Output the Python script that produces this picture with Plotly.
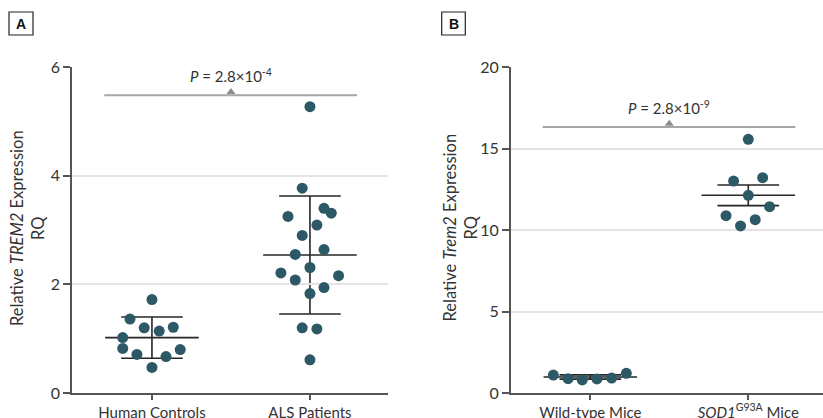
import plotly.graph_objects as go

# ---------------- data ----------------
panel_a_categories = ["Human Controls", "ALS Patients"]
panel_b_categories = ["Wild-type Mice", "<i>SOD1</i><sup>G93A</sup> Mice"]

hc_values = [1.72, 1.36, 1.20, 1.14, 1.21, 1.02, 0.82, 0.71, 0.67, 0.80, 0.47]
hc_jitter = [0.0, -0.139, -0.049, 0.046, 0.135, -0.185, -0.185, -0.095, 0.089, 0.179, 0.0]

als_values = [5.27, 3.77, 3.40, 3.31, 3.25, 3.09, 2.90, 2.64, 2.55, 2.31, 2.21, 2.16,
              2.08, 1.94, 1.83, 1.20, 1.18, 0.61]
als_jitter = [0.0, -0.049, 0.089, 0.135, -0.139, 0.044, -0.049, 0.089, -0.093, 0.0,
              -0.184, 0.181, -0.093, 0.089, 0.0, -0.049, 0.044, 0.0]

wt_values = [1.10, 0.88, 0.80, 0.86, 0.92, 1.21]
wt_jitter = [-0.234, -0.141, -0.051, 0.042, 0.135, 0.228]

sod_values = [15.56, 13.00, 13.21, 12.13, 11.43, 10.88, 10.63, 10.25]
sod_jitter = [0.0, -0.093, 0.091, 0.0, 0.135, -0.141, 0.044, -0.049]

panel_a_means = [1.02, 2.54]
panel_a_sds = [0.38, 1.085]
panel_b_means = [0.98, 12.13]
panel_b_sds = [0.13, 0.635]

p_labels = ["<i>P</i> = 2.8×10<sup>-4</sup>", "<i>P</i> = 2.8×10<sup>-9</sup>"]
bracket_y = [5.48, 16.32]

a_ticks = [0, 2, 4, 6]
b_ticks = [0, 5, 10, 15, 20]

# ---------------- styling ----------------
W, H = 823, 418
FONT = "Lato, Roboto, sans-serif"
DOT = "#2d5866"
LINE = "#262626"
GRID = "#e4e4e4"
AXIS = "#555555"
BRACKET = "#a6a6a6"

def px_x(p):
    return p / W

def px_y(p):
    return 1 - p / H

fig = go.Figure()

def add_group(xa, ya, pos, values, jitter):
    fig.add_trace(go.Scatter(
        x=[pos + j for j in jitter], y=values, mode="markers",
        marker=dict(size=11, color=DOT, line=dict(width=0)),
        xaxis=xa, yaxis=ya, showlegend=False, hoverinfo="skip"))

def add_summary(xr, yr, pos, mean, sd):
    lo, hi = mean - sd, mean + sd
    segs = [
        (pos - 0.296, pos + 0.296, mean, mean),
        (pos - 0.195, pos + 0.195, hi, hi),
        (pos - 0.195, pos + 0.195, lo, lo),
        (pos, pos, lo, hi),
    ]
    for x0, x1, y0, y1 in segs:
        fig.add_shape(type="line", xref=xr, yref=yr, x0=x0, x1=x1, y0=y0, y1=y1,
                      line=dict(color=LINE, width=1.6), layer="below")

# Panel A
add_summary("x", "y", 0, panel_a_means[0], panel_a_sds[0])
add_summary("x", "y", 1, panel_a_means[1], panel_a_sds[1])
add_group("x", "y", 0, hc_values, hc_jitter)
add_group("x", "y", 1, als_values, als_jitter)

# Panel B
add_summary("x2", "y2", 0, panel_b_means[0], panel_b_sds[0])
add_summary("x2", "y2", 1, panel_b_means[1], panel_b_sds[1])
add_group("x2", "y2", 0, wt_values, wt_jitter)
add_group("x2", "y2", 1, sod_values, sod_jitter)

# significance brackets
for xr, yr, by, lab, tri_off in [("x", "y", bracket_y[0], p_labels[0], 0.06),
                                 ("x2", "y2", bracket_y[1], p_labels[1], 0.2)]:
    fig.add_shape(type="line", xref=xr, yref=yr, x0=-0.302, x1=1.298, y0=by, y1=by,
                  line=dict(color=BRACKET, width=1.8))
    fig.add_trace(go.Scatter(x=[0.5], y=[by + tri_off], mode="markers",
                             marker=dict(symbol="triangle-up", size=8, color="#8c8c8c"),
                             xaxis=xr, yaxis=yr, showlegend=False, hoverinfo="skip"))
    fig.add_annotation(x=0.5, y=by, xref=xr, yref=yr, text=lab, showarrow=False,
                       yanchor="bottom", yshift=8,
                       font=dict(family=FONT, size=15, color="#333333"))

# axes
ydom = [px_y(393), px_y(67)]
common_x = dict(showgrid=False, zeroline=False, showline=True, linecolor=AXIS,
                linewidth=1.5, ticks="outside", ticklen=5, tickcolor=AXIS,
                tickwidth=1.5, tickmode="array", tickvals=[0, 1], automargin=False,
                tickfont=dict(family=FONT, size=15, color="#333333"), fixedrange=True)
common_y = dict(showgrid=True, gridcolor=GRID, gridwidth=1.5, zeroline=False,
                showline=True, linecolor=AXIS, linewidth=1.5, ticks="outside",
                ticklen=7, tickcolor=AXIS, tickwidth=1.5, automargin=False,
                tickfont=dict(family=FONT, size=16, color="#333333"), fixedrange=True)

fig.update_layout(
    width=W, height=H, margin=dict(l=0, r=0, t=0, b=0, pad=0), autosize=False,
    paper_bgcolor="white", plot_bgcolor="white",
    xaxis=dict(common_x, domain=[px_x(72), px_x(388)], range=[-0.506, 1.494],
               ticktext=panel_a_categories, anchor="y"),
    yaxis=dict(common_y, domain=ydom, range=[0, 6], tickvals=a_ticks, anchor="x"),
    xaxis2=dict(common_x, domain=[px_x(510.7), 1.0], range=[-0.504, 1.473],
                ticktext=panel_b_categories, anchor="y2"),
    yaxis2=dict(common_y, domain=ydom, range=[0, 20], tickvals=b_ticks, anchor="x2"),
    showlegend=False,
)

# y-axis titles
for xc, txt in [(28, "Relative <i>TREM2</i> Expression<br>RQ"),
                (460.5, "Relative <i>Trem2</i> Expression<br>RQ")]:
    fig.add_annotation(x=px_x(xc), y=px_y(228), xref="paper", yref="paper",
                       text=txt, textangle=-90, showarrow=False,
                       xanchor="center", yanchor="middle",
                       font=dict(family=FONT, size=16.5, color="#333333"))

# panel letters
for x0, x1, lab in [(9, 33, "A"), (441.7, 465.3, "B")]:
    fig.add_shape(type="rect", xref="paper", yref="paper",
                  x0=px_x(x0), x1=px_x(x1), y0=px_y(35), y1=px_y(12),
                  line=dict(color="#222222", width=1.2), fillcolor="white")
    fig.add_annotation(x=px_x((x0 + x1) / 2), y=px_y(23.5), xref="paper", yref="paper",
                       text="<b>%s</b>" % lab, showarrow=False,
                       xanchor="center", yanchor="middle",
                       font=dict(family="Liberation Sans, Arial, sans-serif", size=14,
                                 color="#111111"))

fig.write_html("out.html", config={"displayModeBar": False},
               post_script="document.body.style.margin='0';document.body.style.overflow='hidden';")
